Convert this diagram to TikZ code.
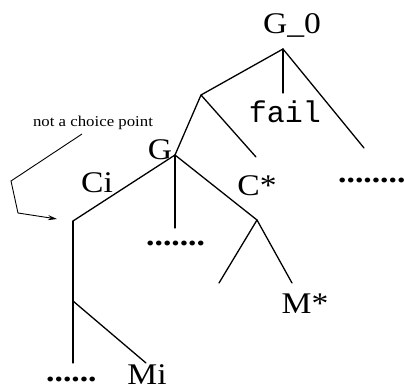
\documentclass[tikz,border=0pt]{standalone}
\usepackage{fontspec}
\setmainfont{Liberation Serif}
\setmonofont{Liberation Mono}
\usetikzlibrary{arrows.meta}
\newcommand{\wide}[1]{\scalebox{1.12}[1]{#1}}
\tikzset{
  edge/.style={line width=1.3pt, line cap=round},
  lab/.style={inner sep=0pt, font=\fontsize{30}{30}\selectfont},
  small/.style={inner sep=0pt, font=\fontsize{15}{15}\selectfont},
  dots/.style={inner sep=0pt, font=\bfseries\fontsize{30}{30}\selectfont},
  pointer/.style={line width=0.9pt, -{Stealth[length=9pt,width=5pt]}}
}
\begin{document}
\begin{tikzpicture}[x=1pt,y=-1pt]
\useasboundingbox (0,0) rectangle (404,389);
% branch points
\coordinate (r) at (283,49);
\coordinate (a) at (201,95);
\coordinate (failtop) at (283,93);
\coordinate (rr) at (364,148);
\coordinate (g) at (175,155);
\coordinate (ac) at (256,157);
\coordinate (gd) at (175,228);
\coordinate (ci) at (73,221);
\coordinate (cs) at (257,220);
\coordinate (csl) at (219,283);
\coordinate (csr) at (292,283);
\coordinate (cim) at (73,301);
\coordinate (cid) at (73,363);
\coordinate (mi) at (146,363);
% arrow path points
\coordinate (p0) at (82,134);
\coordinate (p1) at (11,181);
\coordinate (p2) at (18,213);
\coordinate (p3) at (57,219);
% labels
\node[lab, anchor=base] (G0) at (292,33) {\wide{G\_0}};
\node[lab, font=\ttfamily\fontsize{30}{30}\selectfont] (fail) at (285,112) {fail};
\node[lab, anchor=base] (Gl) at (160,159) {\wide{G}};
\node[lab, anchor=base] (Cil) at (97,192) {\wide{Ci}};
\node[lab, anchor=base] (Csl) at (257,195) {\wide{C*}};
\node[lab, anchor=base] (Msl) at (305,313) {\wide{M*}};
\node[lab, anchor=base] (Mil) at (147,384) {\wide{Mi}};
\node[dots, anchor=base west] (d1) at (338,182) {\wide{........}};
\node[dots, anchor=base west] (d2) at (146,245) {\wide{.......}};
\node[dots, anchor=base west] (d3) at (46,381) {\wide{......}};
\node[small] (ncp) at (93,123) {\wide{not a choice point}};
% edges
\draw[edge] (r) -- (a);
\draw[edge] (r) -- (failtop);
\draw[edge] (r) -- (rr);
\draw[edge] (a) -- (g);
\draw[edge] (a) -- (ac);
\draw[edge] (g) -- (gd);
\draw[edge] (g) -- (ci);
\draw[edge] (g) -- (cs);
\draw[edge] (cs) -- (csl);
\draw[edge] (cs) -- (csr);
\draw[edge] (ci) -- (cim);
\draw[edge] (cim) -- (cid);
\draw[edge] (cim) -- (mi);
\draw[pointer] (p0) -- (p1) -- (p2) -- (p3);
\end{tikzpicture}
\end{document}
